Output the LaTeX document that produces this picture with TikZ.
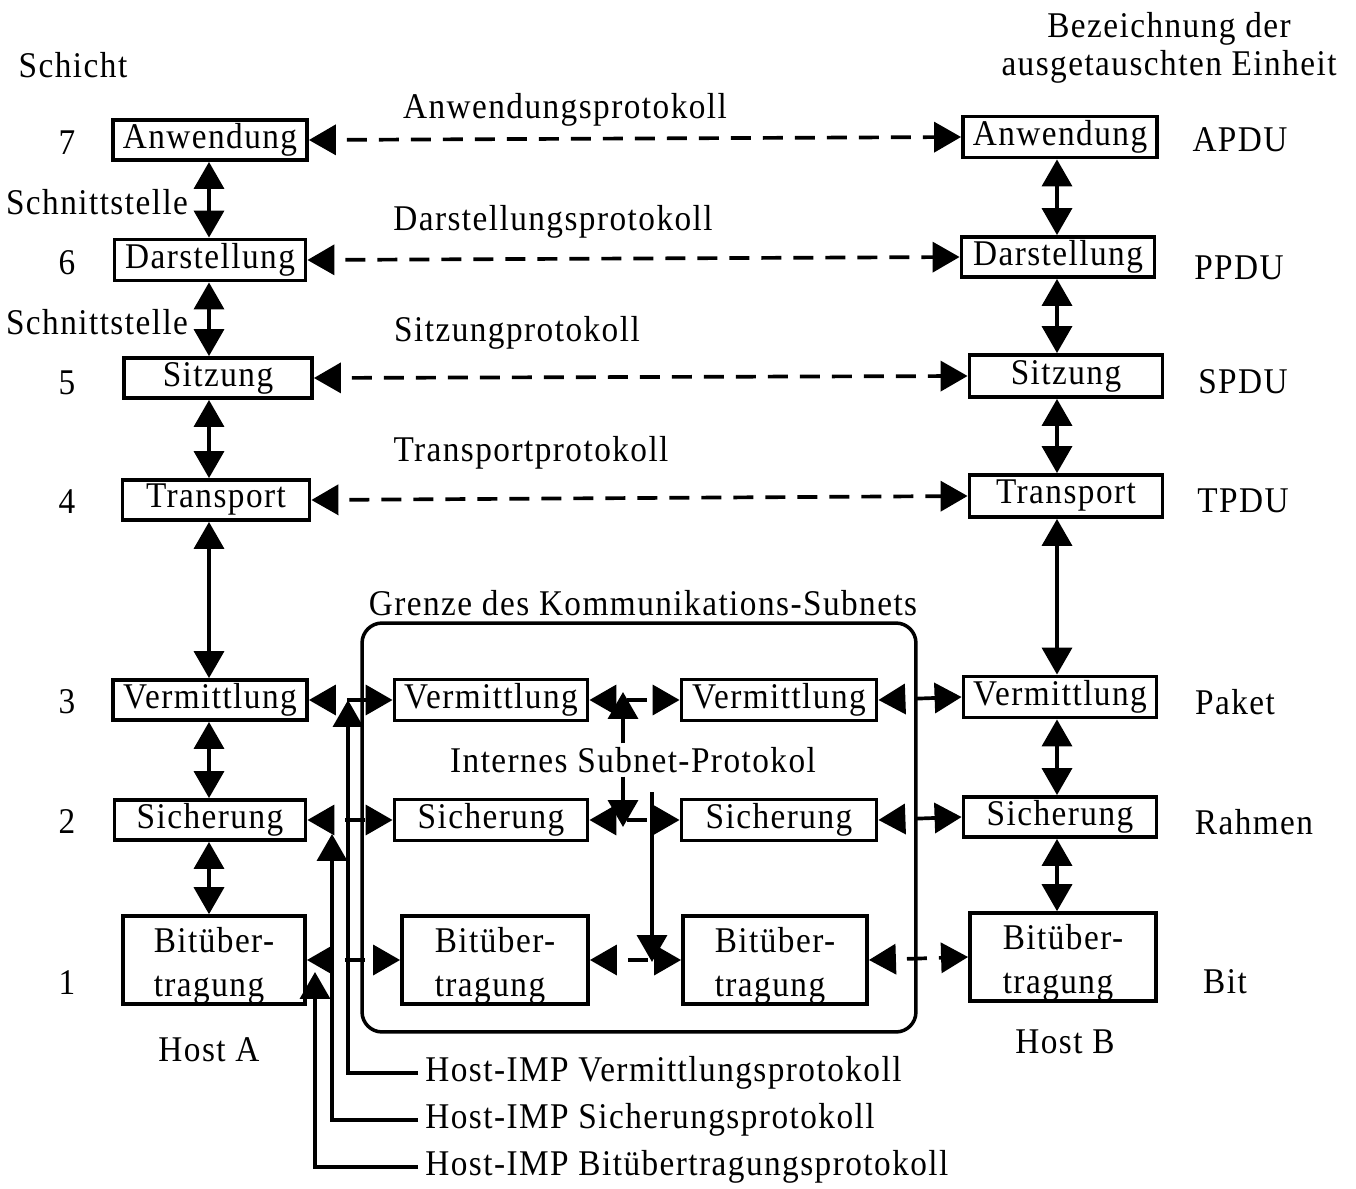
\documentclass[tikz,border=0pt]{standalone}
\usepackage{fontspec}
\setmainfont{Liberation Serif}[FakeStretch=0.92, LetterSpace=4]
\usetikzlibrary{arrows.meta}
\newcommand{\bitstrut}{\rule{0pt}{0.72cm}}
\begin{document}
\begin{tikzpicture}[x=0.02cm,y=-0.02cm,
  every node/.style={font=\fontsize{20.6}{25}\selectfont, inner sep=0pt},
  box/.style={draw, line width=2.2pt, minimum height=0.8cm, inner sep=0pt},
  tip/.style={-{Triangle[length=0.54cm,width=0.6cm]}, line width=2.1pt},
  dbl/.style={{Triangle[length=0.54cm,width=0.6cm]}-{Triangle[length=0.54cm,width=0.6cm]}, line width=2.1pt},
  proto/.style={dbl, dash pattern=on 0.4cm off 0.24cm, dash phase=0.4cm},
  imp/.style={anchor=west, inner xsep=0.14cm}
]
\fill[white] (0,0) rectangle (1356,1189);
\useasboundingbox (0,0) rectangle (1356,1189);

% subnet boundary
\node[draw, line width=2pt, rounded corners=0.4cm, minimum width=11.08cm, minimum height=8.18cm] (subnet) at (639,827.5) {};
\node (grenze) at (643,603) {Grenze des Kommunikations-Subnets};

% headings
\node (schicht) at (73,65) {Schicht};
\node (bez1) at (1169,29) {Bezeichnung der};
\node (bez2) at (1169,67) {ausgetauschten Einheit};

% left boxes
\node[box, minimum width=3.88cm] (la7) at (210,140) {Anwendung};
\node[box, minimum width=3.82cm, minimum height=0.82cm] (ld6) at (210,260) {Darstellung};
\node[box, minimum width=3.76cm] (ls5) at (218,378) {Sitzung};
\node[box, minimum width=3.74cm] (lt4) at (216,500) {Transport};
\node[box, minimum width=3.88cm] (lv3) at (210,700) {Vermittlung};
\node[box, minimum width=3.82cm] (lsi2) at (210,820) {Sicherung};
\node[box, minimum width=3.64cm, minimum height=1.6cm, align=left] (lb1) at (214,960) {\bitstrut Bitüber-\\tragung};

% right boxes
\node[box, minimum width=3.88cm, minimum height=0.82cm] (ra7) at (1060,137) {Anwendung};
\node[box, minimum width=3.86cm] (rd6) at (1058,257) {Darstellung};
\node[box, minimum width=3.86cm, minimum height=0.84cm] (rs5) at (1066,376) {Sitzung};
\node[box, minimum width=3.86cm, minimum height=0.84cm] (rt4) at (1066,496) {Transport};
\node[box, minimum width=3.86cm, minimum height=0.82cm] (rv3) at (1060,697) {Vermittlung};
\node[box, minimum width=3.86cm] (rsi2) at (1060,817) {Sicherung};
\node[box, minimum width=3.72cm, minimum height=1.6cm, align=left] (rb1) at (1063,957) {\bitstrut Bitüber-\\tragung};

% inner subnet boxes
\node[box, minimum width=3.86cm, minimum height=0.82cm] (iv1) at (491,700) {Vermittlung};
\node[box, minimum width=3.9cm, minimum height=0.82cm] (iv2) at (779,700) {Vermittlung};
\node[box, minimum width=3.86cm, minimum height=0.82cm] (is1) at (491,820) {Sicherung};
\node[box, minimum width=3.9cm, minimum height=0.82cm] (is2) at (779,820) {Sicherung};
\node[box, minimum width=3.72cm, minimum height=1.64cm, align=left] (ib1) at (495,960) {\bitstrut Bitüber-\\tragung};
\node[box, minimum width=3.68cm, minimum height=1.62cm, align=left] (ib2) at (775,960) {\bitstrut Bitüber-\\tragung};

% layer numbers
\node (n7) at (67,143) {7};
\node (n6) at (67,263) {6};
\node (n5) at (67,383) {5};
\node (n4) at (67,502) {4};
\node (n3) at (67,702) {3};
\node (n2) at (67,822) {2};
\node (n1) at (67,983) {1};
\node (sst1) at (97,202) {Schnittstelle};
\node (sst2) at (97,322) {Schnittstelle};

% unit names
\node (apdu) at (1240,140) {APDU};
\node (ppdu) at (1239,268) {PPDU};
\node (spdu) at (1243,382) {SPDU};
\node (tpdu) at (1243,501) {TPDU};
\node (paket) at (1235,702) {Paket};
\node (rahmen) at (1254,822) {Rahmen};
\node (bit) at (1225,982) {Bit};

\node (hosta) at (209,1050) {Host A};
\node (hostb) at (1065,1042) {Host B};

% protocol labels
\node (pa) at (565,110) {Anwendungsprotokoll};
\node (pd) at (553,222) {Darstellungsprotokoll};
\node (ps) at (517,333) {Sitzungprotokoll};
\node (pt) at (531,453) {Transportprotokoll};

% vertical interface arrows
\coordinate (lx) at (209,0);
\coordinate (rx) at (1057,0);
\draw[dbl] (la7.south -| lx) -- (ld6.north -| lx);
\draw[dbl] (ld6.south -| lx) -- (ls5.north -| lx);
\draw[dbl] (ls5.south -| lx) -- (lt4.north -| lx);
\draw[dbl] (lt4.south -| lx) -- (lv3.north -| lx);
\draw[dbl] (lv3.south -| lx) -- (lsi2.north -| lx);
\draw[dbl] (lsi2.south -| lx) -- (lb1.north -| lx);
\draw[dbl] (ra7.south -| rx) -- (rd6.north -| rx);
\draw[dbl] (rd6.south -| rx) -- (rs5.north -| rx);
\draw[dbl] (rs5.south -| rx) -- (rt4.north -| rx);
\draw[dbl] (rt4.south -| rx) -- (rv3.north -| rx);
\draw[dbl] (rv3.south -| rx) -- (rsi2.north -| rx);
\draw[dbl] (rsi2.south -| rx) -- (rb1.north -| rx);

% peer protocols
\draw[proto] (la7.east) -- (ra7.west);
\draw[proto] (ld6.east) -- (rd6.west);
\draw[proto] (ls5.east) -- (rs5.west);
\draw[proto] (lt4.east) -- (rt4.west);
\draw[proto] (lv3.east) -- (iv1.west);
\draw[proto] (iv1.east) -- (iv2.west);
\draw[proto] (iv2.east) -- (rv3.west);
\draw[proto] (lsi2.east) -- (is1.west);
\draw[proto] (is1.east) -- (is2.west);
\draw[proto] (is2.east) -- (rsi2.west);
\draw[proto] (lb1.east) -- (ib1.west);
\draw[proto] (ib1.east) -- (ib2.west);
\draw[proto] (ib2.east) -- (rb1.west);

% internal subnet protocol
\coordinate (ia) at (623,692);
\coordinate (ib) at (623,827);
\coordinate (dtop) at (652,792);
\coordinate (dbot) at (652,962);
\node[inner sep=2pt] (isp) at (633,760) {Internes Subnet-Protokol};
\draw[tip] (isp.north -| ia) -- (ia);
\draw[tip] (isp.south -| ib) -- (ib);
\draw[tip] (dtop) -- (dbot);

% Host-IMP protocols
\node[imp] (hv) at (418,1073) {Host-IMP Vermittlungsprotokoll};
\node[imp] (hs) at (418,1120) {Host-IMP Sicherungsprotokoll};
\node[imp] (hb) at (418,1167) {Host-IMP Bitübertragungsprotokoll};
\coordinate (tv) at (348,700);
\coordinate (ts) at (332,834);
\coordinate (tb) at (315,972);
\draw[tip] (hv.west) -| (tv);
\draw[tip] (hs.west) -| (ts);
\draw[tip] (hb.west) -| (tb);
\end{tikzpicture}
\end{document}
